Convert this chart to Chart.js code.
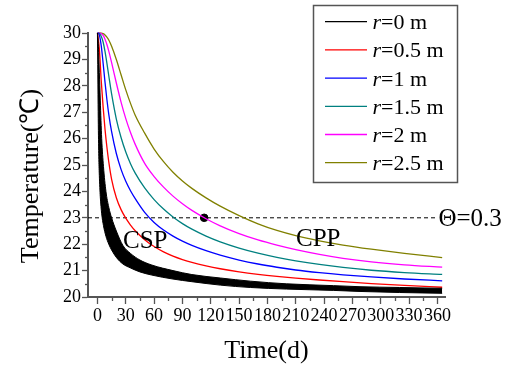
<!DOCTYPE html>
<html>
<head>
<meta charset="utf-8">
<script src="https://cdn.jsdelivr.net/npm/chart.js@4/dist/chart.umd.min.js"></script>
<style>
  html, body { margin: 0; padding: 0; background: #fff; }
  #wrap { position: relative; width: 506px; height: 365px; }
</style>
</head>
<body>
<div id="wrap"><canvas id="c" width="506" height="365"></canvas></div>
<script>
// Time axis (days) shared by the r > 0 curves
const days = [0, 2, 4, 6, 8, 10, 12, 15, 20, 25, 30, 35, 40, 50, 60, 70, 80, 90, 100, 115, 130, 150, 170, 190, 210, 235, 260, 290, 325, 365];

// Temperature (°C) at each distance r from the pipe
const tempR05 = [30, 29.4, 28.2, 27.2, 26.36, 25.68, 25.12, 24.46, 23.76, 23.31, 22.985, 22.725, 22.51, 22.17, 21.91, 21.71, 21.55, 21.42, 21.31, 21.178, 21.07, 20.954, 20.86, 20.782, 20.716, 20.644, 20.579, 20.51, 20.44, 20.37];
const tempR10 = [30, 29.92, 29.52, 28.86, 28.14, 27.48, 26.92, 26.26, 25.435, 24.835, 24.385, 24.025, 23.725, 23.205, 22.825, 22.535, 22.305, 22.115, 21.955, 21.753, 21.585, 21.40, 21.25, 21.127, 21.022, 20.922, 20.84, 20.759, 20.682, 20.614];
const tempR15 = [30, 29.98, 29.88, 29.66, 29.30, 28.86, 28.38, 27.69, 26.74, 26.04, 25.49, 25.05, 24.69, 24.13, 23.69, 23.33, 23.03, 22.78, 22.57, 22.308, 22.09, 21.854, 21.662, 21.504, 21.372, 21.235, 21.122, 21.014, 20.927, 20.855];
const tempR20 = [30, 29.996, 29.976, 29.906, 29.766, 29.566, 29.316, 28.881, 28.106, 27.381, 26.756, 26.231, 25.781, 25.061, 24.561, 24.161, 23.821, 23.531, 23.281, 22.966, 22.696, 22.40, 22.16, 21.964, 21.794, 21.614, 21.464, 21.329, 21.217, 21.129];
const tempR25 = [30, 30, 29.995, 29.975, 29.925, 29.845, 29.735, 29.495, 28.995, 28.42, 27.845, 27.335, 26.885, 26.205, 25.605, 25.125, 24.725, 24.395, 24.115, 23.755, 23.44, 23.08, 22.77, 22.52, 22.324, 22.129, 21.969, 21.813, 21.652, 21.492];

// r = 0 m is a thick band: its upper and lower envelopes on a finer early time grid
const daysR0 = [0, 0.3, 0.7, 1, 1.5, 2, 2.5, 3, 4.5, 6.4, 9, 12, 15, 20, 27, 35, 45, 57.6, 80, 100, 130, 162, 200, 250, 278, 320, 365];
const tempR0Upper = [30, 29.9, 29.7, 29.5, 29.0, 28.5, 28.0, 27.46, 26.0, 24.94, 24.0, 23.4, 23.0, 22.5, 21.95, 21.65, 21.4, 21.21, 21.0, 20.85, 20.72, 20.6, 20.5, 20.43, 20.39, 20.36, 20.33];
const tempR0Lower = [30, 28.8, 27.3, 26.3, 25.2, 24.6, 24.15, 23.8, 23.15, 22.7, 22.3, 22.0, 21.78, 21.5, 21.25, 21.1, 20.95, 20.83, 20.68, 20.58, 20.45, 20.36, 20.3, 20.25, 20.21, 20.17, 20.14];

// Threshold line (Θ = 0.3) and the point where r = 2 m reaches it
const thresholdTemp = 23;
const thresholdSpan = [-10, 359.4];
const thresholdPoint = { x: 113, y: 23 };

// Axis ticks
const xTicks = [0, 30, 60, 90, 120, 150, 180, 210, 240, 270, 300, 330, 360];
const yTicks = [20, 21, 22, 23, 24, 25, 26, 27, 28, 29, 30];

const radii = ['0', '0.5', '1', '1.5', '2', '2.5'];
const colors = ['#000000', '#ff0000', '#0000ff', '#008080', '#ff00ff', '#808000'];

const SERIF = '"Liberation Serif", "Times New Roman", serif';

function pts(xs, ys) { return xs.map((x, i) => ({ x: x, y: ys[i] })); }

const curveSets = [tempR05, tempR10, tempR15, tempR20, tempR25];

const datasets = [
  {
    label: 'r0upper', data: pts(daysR0, tempR0Upper), borderColor: '#000', borderWidth: 1,
    pointRadius: 0, fill: false, cubicInterpolationMode: 'monotone', clip: false, legendIndex: 0
  },
  {
    label: 'r0lower', data: pts(daysR0, tempR0Lower), borderColor: '#000', borderWidth: 1,
    backgroundColor: '#000', pointRadius: 0, fill: '-1', cubicInterpolationMode: 'monotone', clip: false
  }
];
curveSets.forEach((ys, k) => {
  datasets.push({
    label: 'r' + radii[k + 1], data: pts(days, ys), borderColor: colors[k + 1], borderWidth: 1.3,
    pointRadius: 0, fill: false, cubicInterpolationMode: 'monotone', clip: false, legendIndex: k + 1
  });
});
datasets.push({
  label: 'threshold', data: thresholdSpan.map(x => ({ x: x, y: thresholdTemp })),
  borderColor: '#000', borderWidth: 1, borderDash: [4, 3], pointRadius: 0, fill: false
});
datasets.push({
  label: 'point', data: [thresholdPoint], showLine: false, pointRadius: 3.8,
  pointBackgroundColor: '#000', pointBorderColor: '#000', borderColor: '#000'
});

// Text annotations in data coordinates
const notes = [
  { text: 'CSP', x: 50.6, y: 21.86, align: 'center', size: 25 },
  { text: 'CPP', x: 233.8, y: 21.94, align: 'center', size: 25 }
];

const decor = {
  id: 'decor',
  afterDraw(chart) {
    const ctx = chart.ctx;
    const xs = chart.scales.x, ys = chart.scales.y;
    ctx.save();

    // minor ticks
    ctx.strokeStyle = '#555';
    ctx.lineWidth = 1.3;
    for (let v = 15; v < 368; v += 30) {
      const px = Math.round(xs.getPixelForValue(v)) + 0.5;
      ctx.beginPath(); ctx.moveTo(px, xs.top); ctx.lineTo(px, xs.top + 4); ctx.stroke();
    }
    for (let v = 20.5; v < 30; v += 1) {
      const py = Math.round(ys.getPixelForValue(v)) + 0.5;
      ctx.beginPath(); ctx.moveTo(ys.right, py); ctx.lineTo(ys.right - 3, py); ctx.stroke();
    }

    // axis titles
    ctx.fillStyle = '#000';
    ctx.font = '26px ' + SERIF;
    ctx.textAlign = 'center';
    ctx.textBaseline = 'alphabetic';
    ctx.fillText('Time(d)', 266.5, 358);
    ctx.save();
    ctx.translate(38, 176);
    ctx.rotate(-Math.PI / 2);
    ctx.fillText('Temperature(\u2103)', 0, 0);
    ctx.restore();

    // annotations
    notes.forEach(n => {
      ctx.font = n.size + 'px ' + SERIF;
      ctx.textAlign = n.align;
      ctx.fillText(n.text, xs.getPixelForValue(n.x), ys.getPixelForValue(n.y));
    });
    ctx.font = '25px ' + SERIF;
    ctx.textAlign = 'left';
    ctx.fillText('\u0398=0.3', xs.getPixelForValue(thresholdSpan[1]) + 1.5, ys.getPixelForValue(thresholdTemp) + 8.5);

    // legend
    const bx = 313.5, by = 5.5, bw = 144, bh = 177;
    ctx.strokeStyle = '#555';
    ctx.lineWidth = 1.5;
    ctx.strokeRect(bx, by, bw, bh);
    chart.data.datasets.filter(d => d.legendIndex !== undefined).forEach(d => {
      const i = d.legendIndex;
      const ry = 21.7 + i * 28.2;
      ctx.strokeStyle = d.borderColor;
      ctx.lineWidth = 1.3;
      ctx.beginPath(); ctx.moveTo(325, ry); ctx.lineTo(367, ry); ctx.stroke();
      ctx.textAlign = 'left';
      ctx.font = 'italic 22px ' + SERIF;
      ctx.fillText('r', 372.5, ry + 7.5);
      const w = ctx.measureText('r').width;
      ctx.font = '22px ' + SERIF;
      ctx.fillText('=' + radii[i] + ' m', 372.5 + w, ry + 7.5);
    });
    ctx.restore();
  }
};

new Chart(document.getElementById('c'), {
  type: 'line',
  data: { datasets: datasets },
  plugins: [decor],
  options: {
    responsive: false,
    animation: false,
    devicePixelRatio: 1,
    layout: { padding: { top: 33, right: 61, left: 0, bottom: 0 } },
    plugins: { legend: { display: false }, tooltip: { enabled: false } },
    elements: { line: { tension: 0 } },
    scales: {
      x: {
        type: 'linear', min: -10, max: 368,
        afterBuildTicks: s => { s.ticks = xTicks.map(v => ({ value: v })); },
        afterFit: s => { s.height = 68; },
        ticks: { autoSkip: false, maxRotation: 0, padding: 1, color: '#000', font: { family: SERIF, size: 18 } },
        grid: { drawOnChartArea: false, drawTicks: true, tickLength: 7, tickColor: '#555', tickWidth: 1.3 },
        border: { color: '#555', width: 2 }
      },
      y: {
        type: 'linear', min: 20, max: 30,
        afterBuildTicks: s => { s.ticks = yTicks.map(v => ({ value: v })); },
        afterFit: s => { s.width = 88; },
        ticks: { padding: 1, color: '#000', font: { family: SERIF, size: 18 } },
        grid: { drawOnChartArea: false, drawTicks: true, tickLength: 6, tickColor: '#555', tickWidth: 1.3 },
        border: { color: '#555', width: 2 }
      }
    }
  }
});
</script>
</body>
</html>
